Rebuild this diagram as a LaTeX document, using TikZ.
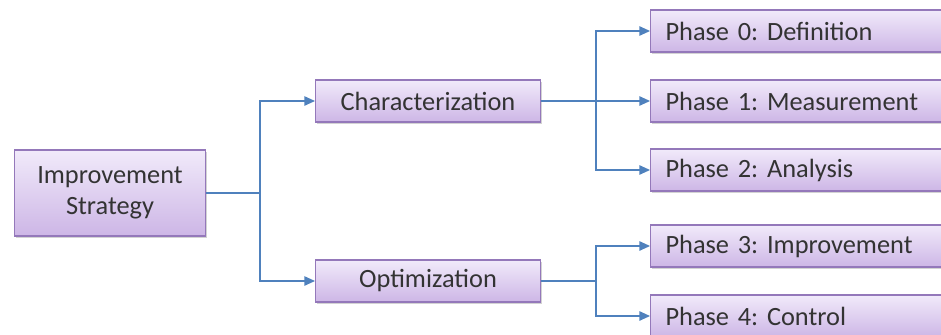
\documentclass[tikz,border=0pt]{standalone}
\usepackage{fontspec}
\setmainfont{Carlito}
\usetikzlibrary{arrows.meta,shadows}
\definecolor{boxtop}{HTML}{F1EAFA}
\definecolor{boxbot}{HTML}{CDB6E6}
\definecolor{boxline}{HTML}{9478BA}
\definecolor{linkcol}{HTML}{4F81BD}
\definecolor{txtcol}{HTML}{333333}
\tikzset{
  stepbox/.style={draw=boxline, line width=0.9pt, top color=boxtop, bottom color=boxbot,
    drop shadow={shadow xshift=1pt, shadow yshift=-2pt, opacity=0.35},
    text=txtcol, font=\fontsize{22.5}{26}\selectfont\frenchspacing, minimum height=1.26cm},
  phasebox/.style={stepbox, anchor=west, minimum width=9.6cm, text width=9cm, align=left, inner xsep=0.45cm},
  link/.style={draw=linkcol, line width=1.1pt, -{Triangle[length=9pt,width=8pt]}},
  plain/.style={draw=linkcol, line width=1.1pt}
}
\begin{document}
\begin{tikzpicture}[x=0.03cm, y=-0.03cm]
\useasboundingbox (0,0) rectangle (941,335);
% left column
\node[stepbox, minimum width=5.73cm, minimum height=2.58cm, align=center] (imp) at (110,193) {Improvement\\Strategy};
% middle column
\node[stepbox, minimum width=6.75cm] (char) at (428,101) {Characterization};
\node[stepbox, minimum width=6.75cm] (opt) at (428,281) {Optimization};
% right column
\node[phasebox] (p0) at (650,31) {Phase 0: Definition};
\node[phasebox] (p1) at (650,101) {Phase 1: Measurement};
\node[phasebox] (p2) at (650,170) {Phase 2: Analysis};
\node[phasebox] (p3) at (650,246) {Phase 3: Improvement};
\node[phasebox] (p4) at (650,316) {Phase 4: Control};
% junctions
\coordinate (j1) at (260,193);
\coordinate (j2) at (596,101);
\coordinate (j3) at (596,281);
% connectors
\draw[plain] (imp.east) -- (j1);
\draw[link] (j1) |- (char.west);
\draw[link] (j1) |- (opt.west);
\draw[plain] (char.east) -- (j2);
\draw[link] (j2) |- (p0.west);
\draw[link] (j2) -- (p1.west);
\draw[link] (j2) |- (p2.west);
\draw[plain] (opt.east) -- (j3);
\draw[link] (j3) |- (p3.west);
\draw[link] (j3) |- (p4.west);
\end{tikzpicture}
\end{document}
